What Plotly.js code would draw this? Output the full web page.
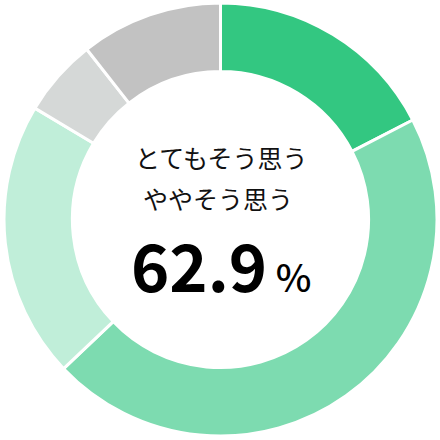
<!DOCTYPE html>
<html>
<head>
<meta charset="utf-8">
<script src="https://cdn.plot.ly/plotly-3.0.1.min.js"></script>
<style>html,body{margin:0;padding:0;background:#fff;}#chart{width:440px;height:440px;}</style>
</head>
<body>
<div id="chart"></div>
<script>
var labels = ["とてもそう思う", "ややそう思う", "あまりそう思わない", "まったくそう思わない", "わからない"];
var values = [17.4, 45.5, 20.7, 5.8, 10.6];
var colors = ["#33c781", "#7ddbb0", "#c0eed9", "#d5d8d7", "#c2c2c2"];
var centerLines = ["とてもそう思う", "ややそう思う"];
var totalText = "62.9";

var jp = "'Noto Sans CJK JP', 'Noto Sans', sans-serif";
var data = [{
  type: "pie",
  labels: labels,
  values: values,
  marker: {colors: colors, line: {color: "#ffffff", width: 3}},
  hole: 0.684,
  sort: false,
  direction: "clockwise",
  rotation: 0,
  textinfo: "none",
  hoverinfo: "label+percent",
  showlegend: false
}];
var layout = {
  width: 440, height: 440,
  margin: {l: 4, r: 3, t: 3, b: 4},
  paper_bgcolor: "#ffffff",
  showlegend: false,
  font: {family: jp, color: "#000000"},
  annotations: [
    {text: centerLines[0], x: 0.503, y: 1 - (157 - 3) / 433, xref: "paper", yref: "paper",
     xanchor: "center", yanchor: "middle", showarrow: false, font: {family: jp, size: 25, color: "#111"}},
    {text: centerLines[1], x: 0.495, y: 1 - (198 - 3) / 433, xref: "paper", yref: "paper",
     xanchor: "center", yanchor: "middle", showarrow: false, font: {family: jp, size: 25, color: "#111"}},
    {text: "<b>" + totalText + "</b><span style='font-size:38px;font-weight:500'> %</span>", x: 0.502, y: 1 - (264 - 3) / 433, xref: "paper", yref: "paper",
     xanchor: "center", yanchor: "middle", showarrow: false, font: {family: jp, size: 65, color: "#000"}}
  ]
};
Plotly.newPlot("chart", data, layout, {displayModeBar: false, staticPlot: true});
</script>
</body>
</html>
